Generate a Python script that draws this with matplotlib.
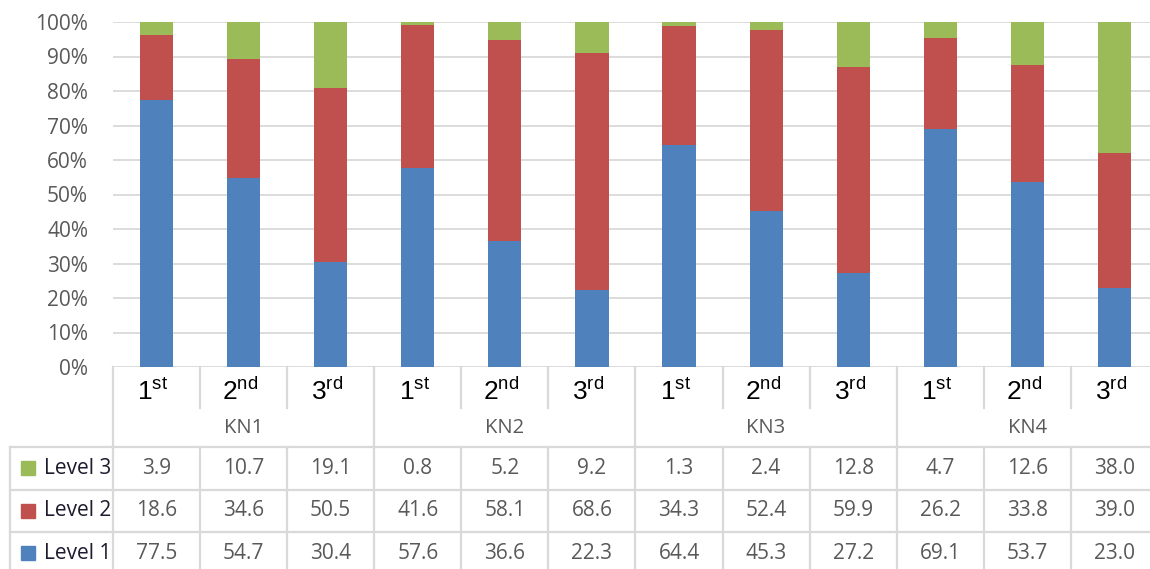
import matplotlib.pyplot as plt
import numpy as np

plt.rcParams["font.family"] = ["Open Sans", "DejaVu Sans"]
plt.rcParams["mathtext.fontset"] = "custom"
plt.rcParams["mathtext.rm"] = "Liberation Sans"
plt.rcParams["mathtext.it"] = "Liberation Sans"

groups = ["KN1", "KN2", "KN3", "KN4"]
rounds = ["1", "2", "3"]
suffixes = ["st", "nd", "rd"]
level1 = [77.5, 54.7, 30.4, 57.6, 36.6, 22.3, 64.4, 45.3, 27.2, 69.1, 53.7, 23.0]
level2 = [18.6, 34.6, 50.5, 41.6, 58.1, 68.6, 34.3, 52.4, 59.9, 26.2, 33.8, 39.0]
level3 = [3.9, 10.7, 19.1, 0.8, 5.2, 9.2, 1.3, 2.4, 12.8, 4.7, 12.6, 38.0]

blue, red, green = "#4F81BD", "#C0504D", "#9BBB59"
grid_c = "#D9D9D9"
txt_c = "#595959"

W, H = 1150, 569
fig = plt.figure(figsize=(W / 100, H / 100), dpi=100)

# plot area in pixel units (column pitch ~87 px, last column runs off the edge)
ax_l, ax_r, ax_top, ax_bot = 113, 1158, 22, 367
ax = fig.add_axes([ax_l / W, 1 - ax_bot / H, (ax_r - ax_l) / W, (ax_bot - ax_top) / H])

n = len(level1)
x = np.arange(n)
l1, l2, l3 = np.array(level1), np.array(level2), np.array(level3)
bw = 0.38
ax.bar(x, l1, bw, color=blue, zorder=3)
ax.bar(x, l2, bw, bottom=l1, color=red, zorder=3)
ax.bar(x, l3, bw, bottom=l1 + l2, color=green, zorder=3)

ax.set_xlim(-0.5, n - 0.5)
ax.set_ylim(0, 100)
ax.set_yticks(range(0, 101, 10))
ax.set_yticklabels([f"{v}%" for v in range(0, 101, 10)], color=txt_c, fontsize=15)
ax.tick_params(axis="y", length=0, pad=18)
ax.set_xticks([])
for v in range(0, 101, 10):
    ax.axhline(v, color=grid_c, lw=1.3, zorder=1)
for s in ax.spines.values():
    s.set_visible(False)

# data table underneath, y measured in pixels below the plot area
row_h = 42.5
head_h = 80
tab_h = head_h + 3 * row_h
tab = fig.add_axes([ax_l / W, 1 - (ax_bot + tab_h) / H, (ax_r - ax_l) / W, tab_h / H])
tab.set_xlim(-0.5, n - 0.5)
tab.set_ylim(tab_h, 0)
tab.axis("off")

px = n / (ax_r - ax_l)  # data units per pixel
x_left = -0.5 - (ax_l - 10) * px
lc = dict(color=grid_c, lw=1.6, clip_on=False)

for k in range(n + 1):
    xb = k - 0.5
    if k % 3 == 0:
        tab.plot([xb, xb], [0, tab_h], **lc)
    else:
        tab.plot([xb, xb], [0, 41], **lc)
        tab.plot([xb, xb], [head_h, tab_h], **lc)
tab.plot([x_left, x_left], [head_h, tab_h], **lc)
for r in range(3):
    yy = head_h + r * row_h
    tab.plot([x_left, n - 0.5], [yy, yy], **lc)

for i in range(n):
    g, j = divmod(i, 3)
    tab.text(i - 0.04, 33, rf"${rounds[j]}^{{\mathrm{{{suffixes[j]}}}}}$",
             ha="center", va="baseline", fontsize=19, color="black")
for g, name in enumerate(groups):
    tab.text(g * 3 + 1, 61, name, ha="center", va="center", fontsize=14.5, color=txt_c)

rows = [("Level 3", green, level3), ("Level 2", red, level2), ("Level 1", blue, level1)]
for r, (lab, col, vals) in enumerate(rows):
    yc = head_h + (r + 0.5) * row_h
    tab.plot([-0.5 - (ax_l - 27.5) * px], [yc], marker="s", ms=10.5, color=col,
             ls="none", clip_on=False)
    tab.text(-0.5 - (ax_l - 44) * px, yc, lab, ha="left", va="center",
             fontsize=15, color="#1F1A2E", clip_on=False)
    for i, v in enumerate(vals):
        tab.text(i, yc, f"{v:.1f}", ha="center", va="center", fontsize=15, color=txt_c)

fig.savefig("out.png", dpi=100)
